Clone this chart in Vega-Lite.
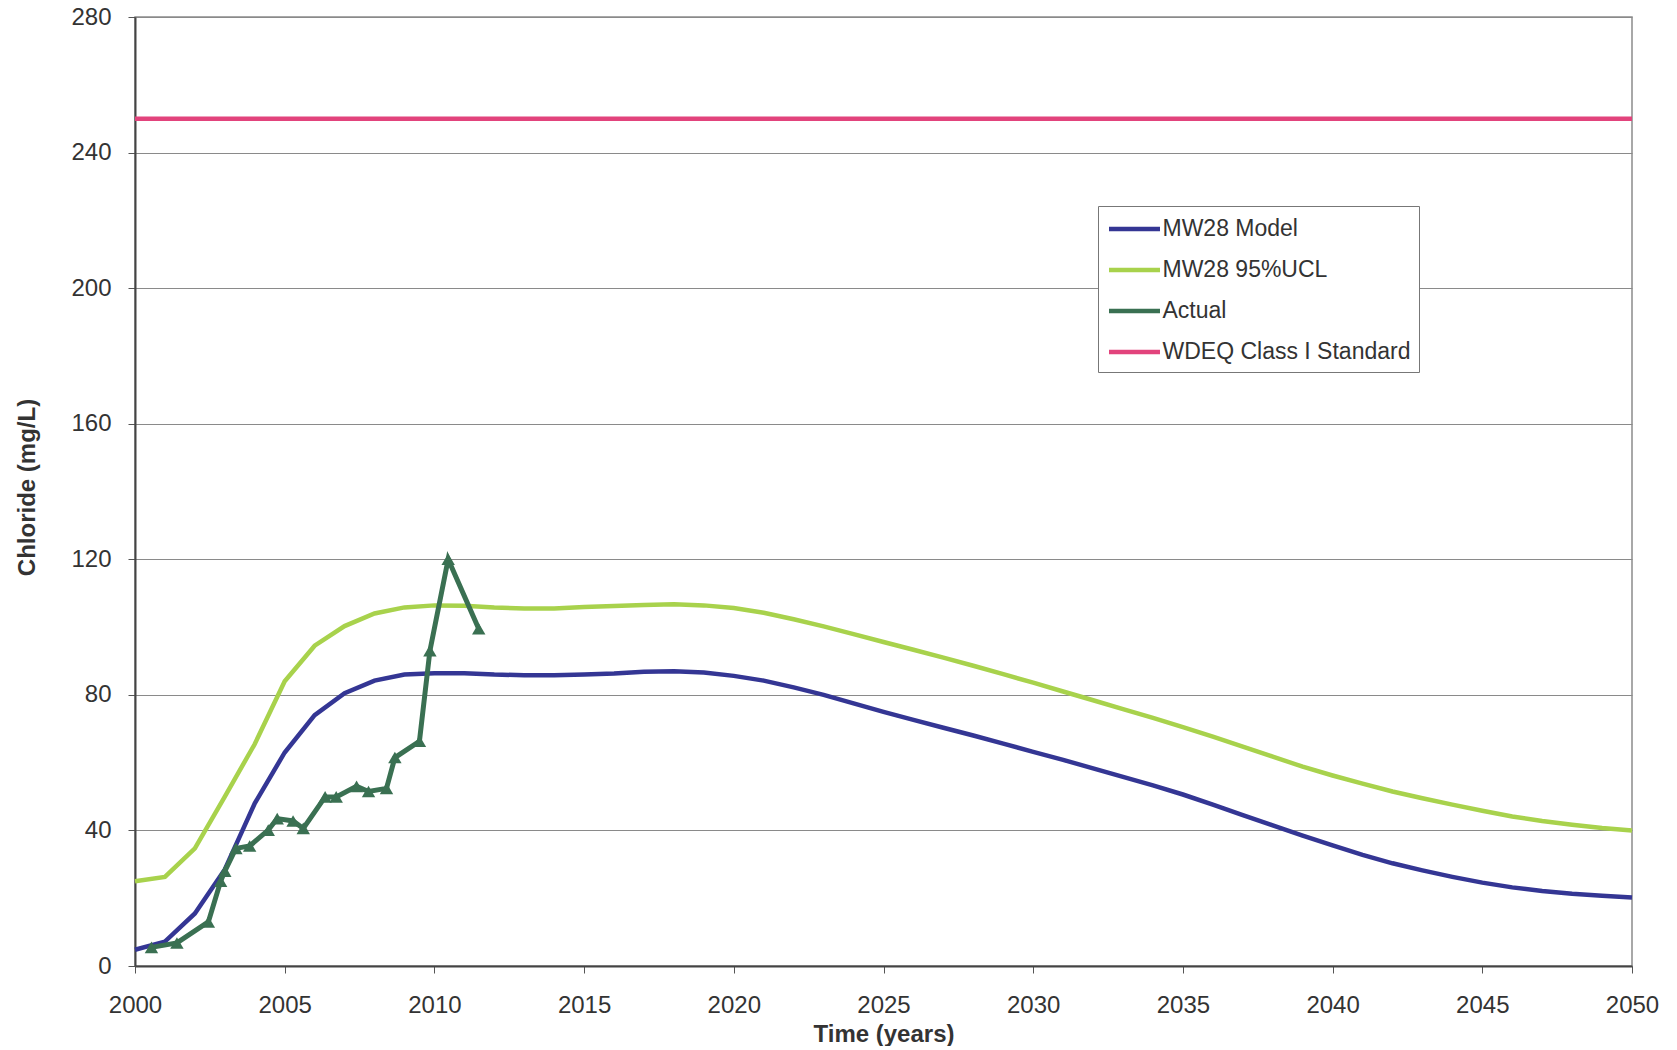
{
  "$schema": "https://vega.github.io/schema/vega-lite/v6.json",
  "width": 1497,
  "height": 949,
  "autosize": {"type": "pad"},
  "padding": {"left": 0, "top": 5, "right": 44, "bottom": 0},
  "config": {
    "font": "Liberation Sans",
    "view": {"stroke": "#8c8c8c", "strokeWidth": 1.5},
    "axis": {
      "labelFont": "Liberation Sans",
      "labelFontSize": 24,
      "labelColor": "#333333",
      "titleFont": "Liberation Sans",
      "titleFontSize": 24,
      "titleFontWeight": "bold",
      "titleColor": "#333333",
      "tickColor": "#555555",
      "tickSize": 7,
      "domainColor": "#444444",
      "domainWidth": 2,
      "gridColor": "#8a8a8a",
      "gridWidth": 1.2
    }
  },
  "datasets": {
    "model": [
      {"series": "MW28 Model", "year": 2000, "value": 4.8},
      {"series": "MW28 Model", "year": 2001, "value": 7.2},
      {"series": "MW28 Model", "year": 2002, "value": 15.5},
      {"series": "MW28 Model", "year": 2003, "value": 28.5},
      {"series": "MW28 Model", "year": 2004, "value": 48},
      {"series": "MW28 Model", "year": 2005, "value": 63},
      {"series": "MW28 Model", "year": 2006, "value": 74},
      {"series": "MW28 Model", "year": 2007, "value": 80.5},
      {"series": "MW28 Model", "year": 2008, "value": 84.2},
      {"series": "MW28 Model", "year": 2009, "value": 86},
      {"series": "MW28 Model", "year": 2010, "value": 86.4},
      {"series": "MW28 Model", "year": 2011, "value": 86.4},
      {"series": "MW28 Model", "year": 2012, "value": 86},
      {"series": "MW28 Model", "year": 2013, "value": 85.8},
      {"series": "MW28 Model", "year": 2014, "value": 85.8},
      {"series": "MW28 Model", "year": 2015, "value": 86},
      {"series": "MW28 Model", "year": 2016, "value": 86.3},
      {"series": "MW28 Model", "year": 2017, "value": 86.8},
      {"series": "MW28 Model", "year": 2018, "value": 87},
      {"series": "MW28 Model", "year": 2019, "value": 86.6},
      {"series": "MW28 Model", "year": 2020, "value": 85.6},
      {"series": "MW28 Model", "year": 2021, "value": 84.2},
      {"series": "MW28 Model", "year": 2022, "value": 82.2},
      {"series": "MW28 Model", "year": 2023, "value": 80},
      {"series": "MW28 Model", "year": 2024, "value": 77.5},
      {"series": "MW28 Model", "year": 2025, "value": 75},
      {"series": "MW28 Model", "year": 2026, "value": 72.6},
      {"series": "MW28 Model", "year": 2027, "value": 70.3},
      {"series": "MW28 Model", "year": 2028, "value": 68},
      {"series": "MW28 Model", "year": 2029, "value": 65.6},
      {"series": "MW28 Model", "year": 2030, "value": 63.2},
      {"series": "MW28 Model", "year": 2031, "value": 60.8},
      {"series": "MW28 Model", "year": 2032, "value": 58.3},
      {"series": "MW28 Model", "year": 2033, "value": 55.8},
      {"series": "MW28 Model", "year": 2034, "value": 53.3},
      {"series": "MW28 Model", "year": 2035, "value": 50.6},
      {"series": "MW28 Model", "year": 2036, "value": 47.6},
      {"series": "MW28 Model", "year": 2037, "value": 44.5},
      {"series": "MW28 Model", "year": 2038, "value": 41.5},
      {"series": "MW28 Model", "year": 2039, "value": 38.5},
      {"series": "MW28 Model", "year": 2040, "value": 35.6},
      {"series": "MW28 Model", "year": 2041, "value": 32.8},
      {"series": "MW28 Model", "year": 2042, "value": 30.3},
      {"series": "MW28 Model", "year": 2043, "value": 28.2},
      {"series": "MW28 Model", "year": 2044, "value": 26.3},
      {"series": "MW28 Model", "year": 2045, "value": 24.6},
      {"series": "MW28 Model", "year": 2046, "value": 23.2},
      {"series": "MW28 Model", "year": 2047, "value": 22.1},
      {"series": "MW28 Model", "year": 2048, "value": 21.3},
      {"series": "MW28 Model", "year": 2049, "value": 20.7},
      {"series": "MW28 Model", "year": 2050, "value": 20.2},
      {"series": "MW28 95%UCL", "year": 2000, "value": 25},
      {"series": "MW28 95%UCL", "year": 2001, "value": 26.3},
      {"series": "MW28 95%UCL", "year": 2002, "value": 34.7},
      {"series": "MW28 95%UCL", "year": 2003, "value": 50},
      {"series": "MW28 95%UCL", "year": 2004, "value": 65.5},
      {"series": "MW28 95%UCL", "year": 2005, "value": 84},
      {"series": "MW28 95%UCL", "year": 2006, "value": 94.5},
      {"series": "MW28 95%UCL", "year": 2007, "value": 100.3},
      {"series": "MW28 95%UCL", "year": 2008, "value": 104},
      {"series": "MW28 95%UCL", "year": 2009, "value": 105.8},
      {"series": "MW28 95%UCL", "year": 2010, "value": 106.4},
      {"series": "MW28 95%UCL", "year": 2011, "value": 106.3},
      {"series": "MW28 95%UCL", "year": 2012, "value": 105.8},
      {"series": "MW28 95%UCL", "year": 2013, "value": 105.5},
      {"series": "MW28 95%UCL", "year": 2014, "value": 105.5},
      {"series": "MW28 95%UCL", "year": 2015, "value": 105.9},
      {"series": "MW28 95%UCL", "year": 2016, "value": 106.2},
      {"series": "MW28 95%UCL", "year": 2017, "value": 106.5},
      {"series": "MW28 95%UCL", "year": 2018, "value": 106.7},
      {"series": "MW28 95%UCL", "year": 2019, "value": 106.4},
      {"series": "MW28 95%UCL", "year": 2020, "value": 105.6},
      {"series": "MW28 95%UCL", "year": 2021, "value": 104.2},
      {"series": "MW28 95%UCL", "year": 2022, "value": 102.3},
      {"series": "MW28 95%UCL", "year": 2023, "value": 100.2},
      {"series": "MW28 95%UCL", "year": 2024, "value": 97.9},
      {"series": "MW28 95%UCL", "year": 2025, "value": 95.6},
      {"series": "MW28 95%UCL", "year": 2026, "value": 93.3},
      {"series": "MW28 95%UCL", "year": 2027, "value": 91},
      {"series": "MW28 95%UCL", "year": 2028, "value": 88.6},
      {"series": "MW28 95%UCL", "year": 2029, "value": 86.1},
      {"series": "MW28 95%UCL", "year": 2030, "value": 83.6},
      {"series": "MW28 95%UCL", "year": 2031, "value": 81},
      {"series": "MW28 95%UCL", "year": 2032, "value": 78.4},
      {"series": "MW28 95%UCL", "year": 2033, "value": 75.8},
      {"series": "MW28 95%UCL", "year": 2034, "value": 73.2},
      {"series": "MW28 95%UCL", "year": 2035, "value": 70.5},
      {"series": "MW28 95%UCL", "year": 2036, "value": 67.7},
      {"series": "MW28 95%UCL", "year": 2037, "value": 64.7},
      {"series": "MW28 95%UCL", "year": 2038, "value": 61.8},
      {"series": "MW28 95%UCL", "year": 2039, "value": 58.8},
      {"series": "MW28 95%UCL", "year": 2040, "value": 56.2},
      {"series": "MW28 95%UCL", "year": 2041, "value": 53.8},
      {"series": "MW28 95%UCL", "year": 2042, "value": 51.5},
      {"series": "MW28 95%UCL", "year": 2043, "value": 49.5},
      {"series": "MW28 95%UCL", "year": 2044, "value": 47.6},
      {"series": "MW28 95%UCL", "year": 2045, "value": 45.8},
      {"series": "MW28 95%UCL", "year": 2046, "value": 44.1},
      {"series": "MW28 95%UCL", "year": 2047, "value": 42.8},
      {"series": "MW28 95%UCL", "year": 2048, "value": 41.7},
      {"series": "MW28 95%UCL", "year": 2049, "value": 40.7},
      {"series": "MW28 95%UCL", "year": 2050, "value": 40},
      {"series": "WDEQ Class I Standard", "year": 2000, "value": 250},
      {"series": "WDEQ Class I Standard", "year": 2050, "value": 250}
    ],
    "actual": [
      {"series": "Actual", "year": 2000.55, "value": 5.5},
      {"series": "Actual", "year": 2001.4, "value": 6.8},
      {"series": "Actual", "year": 2002.45, "value": 13},
      {"series": "Actual", "year": 2002.86, "value": 25},
      {"series": "Actual", "year": 2003.0, "value": 28},
      {"series": "Actual", "year": 2003.37, "value": 34.7},
      {"series": "Actual", "year": 2003.83, "value": 35.4},
      {"series": "Actual", "year": 2004.45, "value": 40.1},
      {"series": "Actual", "year": 2004.75, "value": 43.5},
      {"series": "Actual", "year": 2005.28, "value": 42.8},
      {"series": "Actual", "year": 2005.62, "value": 40.6},
      {"series": "Actual", "year": 2006.35, "value": 49.9},
      {"series": "Actual", "year": 2006.72, "value": 49.9},
      {"series": "Actual", "year": 2007.4, "value": 53},
      {"series": "Actual", "year": 2007.8, "value": 51.5},
      {"series": "Actual", "year": 2008.4, "value": 52.4},
      {"series": "Actual", "year": 2008.68, "value": 61.5},
      {"series": "Actual", "year": 2009.5, "value": 66.3},
      {"series": "Actual", "year": 2009.85, "value": 93},
      {"series": "Actual", "year": 2010.46, "value": 120},
      {"series": "Actual", "year": 2011.48, "value": 99.5}
    ]
  },
  "encoding": {
    "x": {
      "field": "year",
      "type": "quantitative",
      "title": "Time (years)",
      "scale": {"domain": [2000, 2050], "nice": false, "zero": false},
      "axis": {
        "values": [2000, 2005, 2010, 2015, 2020, 2025, 2030, 2035, 2040, 2045, 2050],
        "format": "d",
        "grid": false,
        "labelFlush": false,
        "labelPadding": 20,
        "titleY": 68,
        "titleBaseline": "middle"
      }
    },
    "y": {
      "field": "value",
      "type": "quantitative",
      "title": "Chloride (mg/L)",
      "scale": {"domain": [0, 280], "nice": false},
      "axis": {
        "values": [0, 40, 80, 120, 160, 200, 240, 280],
        "labelPadding": 17,
        "minExtent": 135,
        "maxExtent": 135,
        "titleX": -108,
        "titleY": 470,
        "titleAlign": "center",
        "titleBaseline": "middle",
        "titleAngle": -90
      }
    },
    "color": {
      "field": "series",
      "type": "nominal",
      "scale": {
        "domain": ["MW28 Model", "MW28 95%UCL", "Actual", "WDEQ Class I Standard"],
        "range": ["#343694", "#A8D24C", "#3A7052", "#E2437C"]
      },
      "legend": {
        "title": null,
        "orient": "none",
        "legendX": 963,
        "legendY": 189,
        "labelFont": "Liberation Sans",
        "labelFontSize": 23,
        "labelColor": "#333333",
        "labelLimit": 400,
        "symbolType": "M-2,0H2",
        "symbolSize": 650,
        "symbolStrokeWidth": 4.5,
        "symbolOffset": 13.5,
        "labelOffset": 13,
        "strokeColor": "#777777",
        "fillColor": "#ffffff",
        "padding": 8,
        "rowPadding": 14
      }
    }
  },
  "layer": [
    {
      "data": {"name": "model"},
      "mark": {"type": "line", "strokeWidth": 4.5}
    },
    {
      "data": {"name": "actual"},
      "mark": {
        "type": "line",
        "strokeWidth": 5,
        "point": {"shape": "triangle-up", "filled": true, "size": 180}
      }
    }
  ]
}
